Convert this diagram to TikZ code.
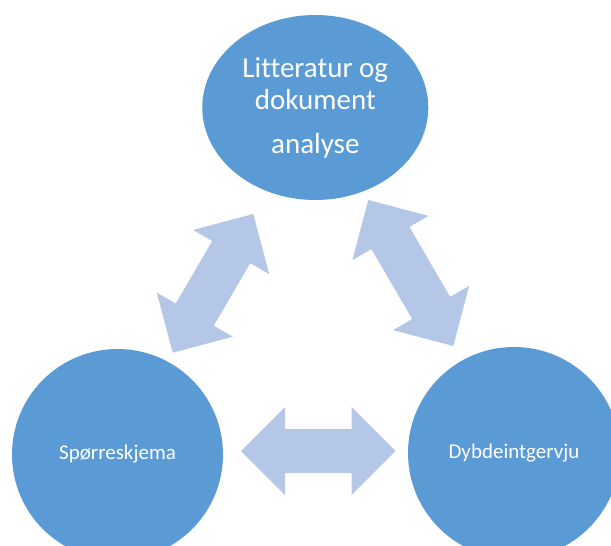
\documentclass[tikz,border=0pt]{standalone}
\usepackage{fontspec}
\setmainfont{Carlito}[Ligatures=NoCommon]
\usetikzlibrary{shapes.geometric,calc}

\definecolor{methodblue}{RGB}{91,155,213}
\definecolor{linkblue}{RGB}{180,199,231}

% Two-way block arrow between two tip coordinates:
% head length 44, head half-width 44, shaft half-width 22.
\newcommand\twowayarrow[2]{%
  \fill[linkarrow]
    (#1)
    -- ($(#1)!44pt!(#2)!44pt!90:(#2)$)
    -- ($(#1)!44pt!(#2)!22pt!90:(#2)$)
    -- ($(#2)!44pt!(#1)!22pt!-90:(#1)$)
    -- ($(#2)!44pt!(#1)!44pt!-90:(#1)$)
    -- (#2)
    -- ($(#2)!44pt!(#1)!44pt!90:(#1)$)
    -- ($(#2)!44pt!(#1)!22pt!90:(#1)$)
    -- ($(#1)!44pt!(#2)!22pt!-90:(#2)$)
    -- ($(#1)!44pt!(#2)!44pt!-90:(#2)$)
    -- cycle;}

\tikzset{
  method/.style={fill=methodblue, draw=none, text=white, inner sep=0pt, align=center},
  linkarrow/.style={fill=linkblue, draw=none},
}

\begin{document}
\begin{tikzpicture}[x=1pt, y=-1pt]
  \useasboundingbox (0,0) rectangle (611,546);

  % method nodes
  \node[method, ellipse, minimum width=226pt, minimum height=185pt,
        font=\fontsize{29}{32}\selectfont] (lit) at (315.3,107.5)
        {Litteratur og\\dokument\\[12pt]analyse};
  \begin{scope}
    \clip (0,0) rectangle (611,546);
    \node[method, circle, minimum size=211pt,
          font=\fontsize{21}{25}\selectfont] (survey) at (117.5,454.5) {Spørreskjema};
    \node[method, circle, minimum size=212pt,
          font=\fontsize{21}{25}\selectfont] (interview) at (514,453) {Dybdeintgervju};
  \end{scope}

  % arrow tips
  \coordinate (ls) at (172.7,352.7);
  \coordinate (le) at (253.3,214);
  \coordinate (rs) at (368.3,200);
  \coordinate (re) at (453.3,346);
  \coordinate (bs) at (241,451);
  \coordinate (be) at (395.7,451);

  % links between the methods
  \twowayarrow{ls}{le}
  \twowayarrow{rs}{re}
  \twowayarrow{bs}{be}
\end{tikzpicture}
\end{document}
